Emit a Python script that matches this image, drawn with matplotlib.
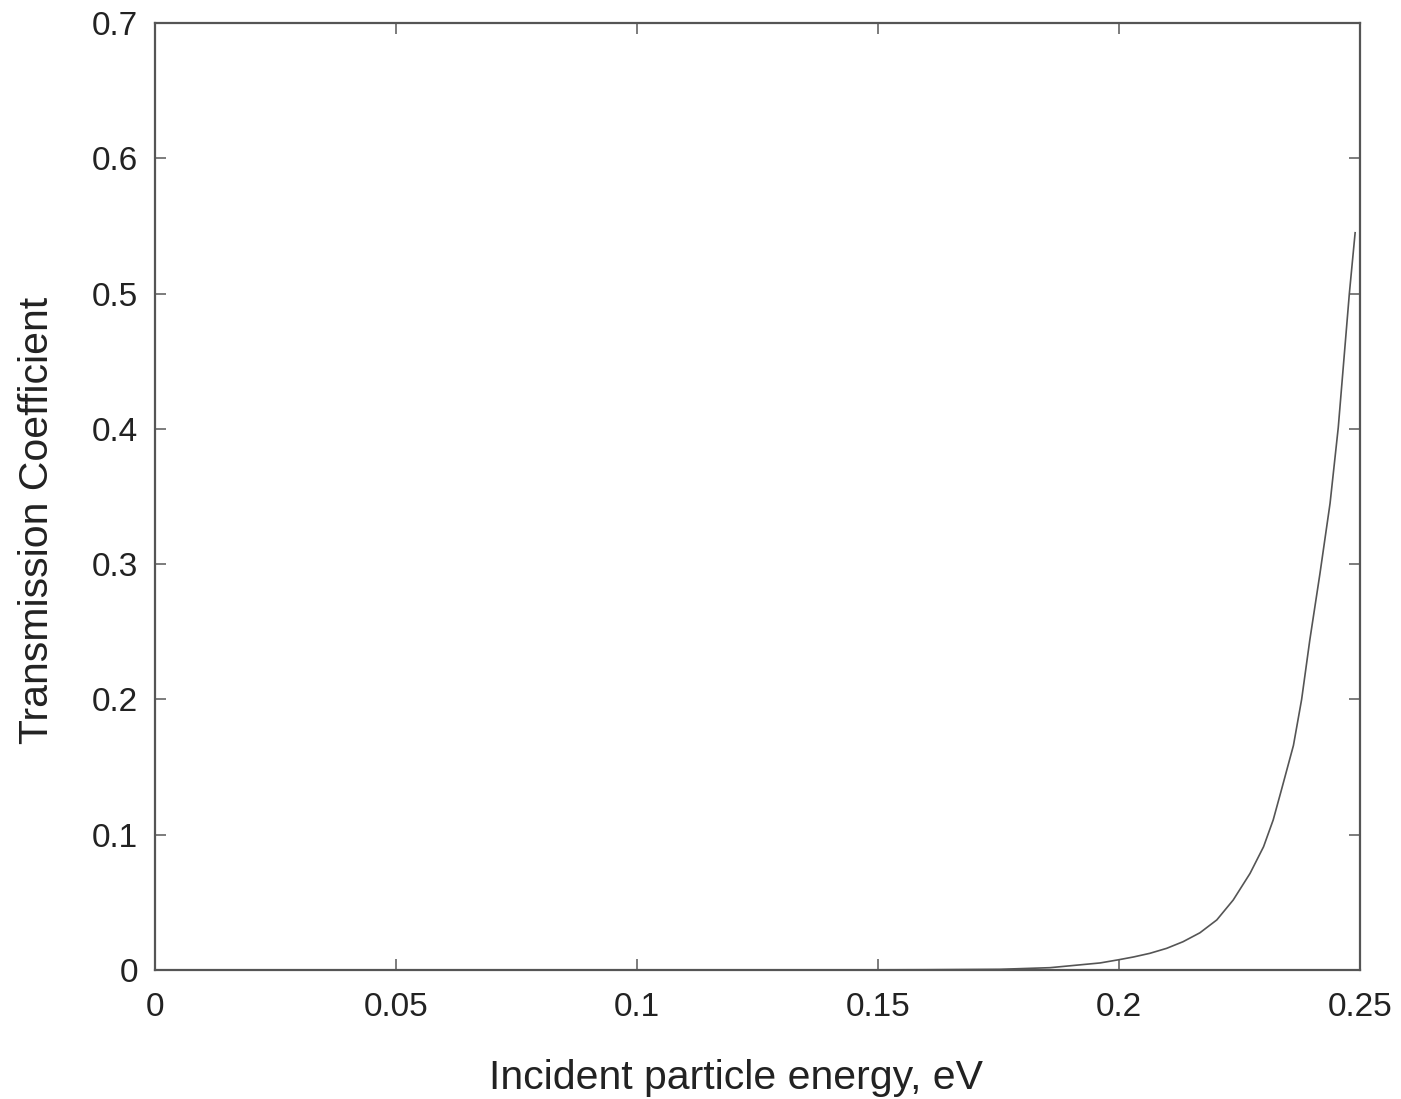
import matplotlib

matplotlib.use("Agg")
import matplotlib.pyplot as plt

plt.rcParams["font.family"] = ["Liberation Sans", "DejaVu Sans"]

# transmission coefficient
energy = [0.14, 0.16, 0.1753, 0.1857, 0.1961, 0.2, 0.203, 0.2064, 0.2099, 0.2133,
          0.2168, 0.2203, 0.2237, 0.2272, 0.2300, 0.2320, 0.2337, 0.2362, 0.2379,
          0.2396, 0.2417, 0.2438, 0.2455, 0.2478, 0.2490]
transmission = [0.0, 0.0002, 0.0005, 0.0017, 0.0052, 0.0076, 0.0096, 0.0123, 0.016,
                0.0209, 0.0275, 0.037, 0.0517, 0.0714, 0.0911, 0.1109, 0.133, 0.166,
                0.200, 0.244, 0.293, 0.345, 0.401, 0.500, 0.545]

x_ticks = [0, 0.05, 0.1, 0.15, 0.2, 0.25]
x_tick_labels = ["0", "0.05", "0.1", "0.15", "0.2", "0.25"]
y_ticks = [0, 0.1, 0.2, 0.3, 0.4, 0.5, 0.6, 0.7]
y_tick_labels = ["0", "0.1", "0.2", "0.3", "0.4", "0.5", "0.6", "0.7"]

fig = plt.figure(figsize=(14.01, 10.99), dpi=100)
ax = fig.add_axes([0.1106, 0.1174, 0.8601, 0.8616])
ax.plot(energy, transmission, color="#555555", linewidth=1.2)

ax.set_xlim(0, 0.25)
ax.set_ylim(0, 0.7)
ax.set_xticks(x_ticks)
ax.set_xticklabels(x_tick_labels)
ax.set_yticks(y_ticks)
ax.set_yticklabels(y_tick_labels)
ax.tick_params(direction="in", length=8, width=1.2, color="#666666",
               top=True, right=True, labelsize=24, labelcolor="#222222")
ax.tick_params(axis="x", pad=16)
ax.tick_params(axis="y", pad=12)
for spine in ax.spines.values():
    spine.set_color("#555555")
    spine.set_linewidth(1.6)

ax.set_xlabel("Incident particle energy, eV", fontsize=29.5, color="#222222", labelpad=26)
ax.set_ylabel("Transmission Coefficient", fontsize=29.5, color="#222222", labelpad=26)
# labels in the reference sit slightly off-centre
ax.xaxis.label.set_x(0.482)
ax.yaxis.label.set_y(0.475)

fig.savefig("out.png", dpi=100)
